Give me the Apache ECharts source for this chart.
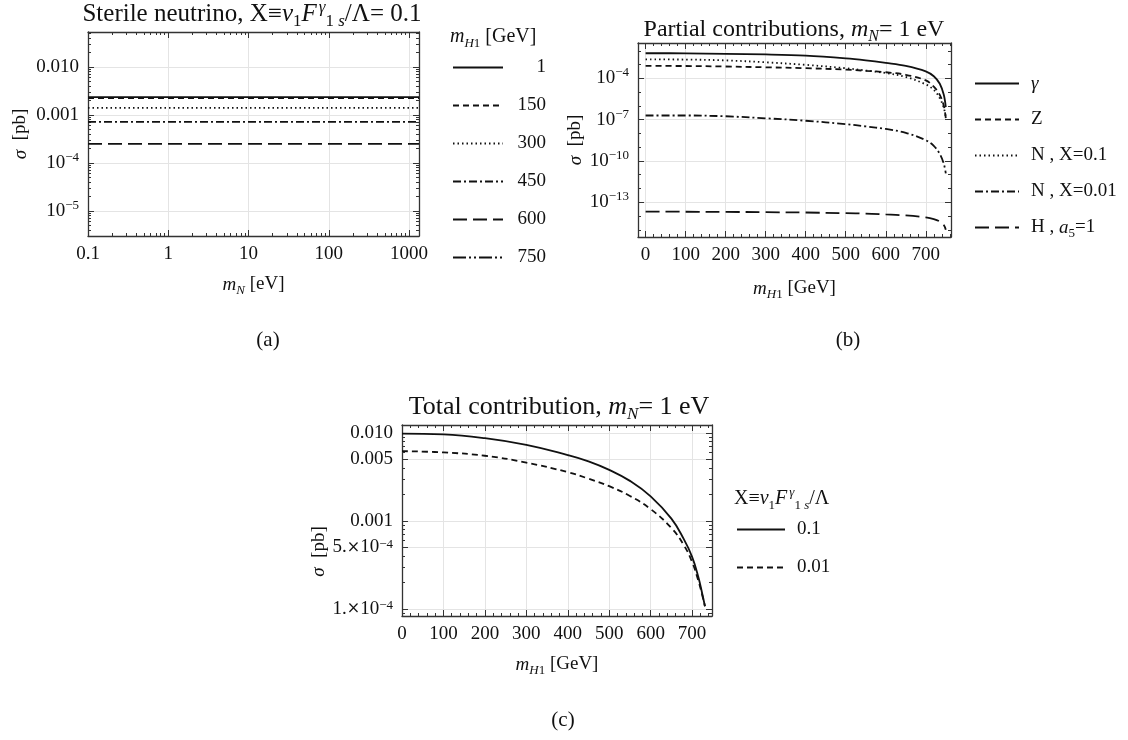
<!DOCTYPE html>
<html lang="en" style="height: 100%">

<head>
  <meta charset="utf-8">
</head>

<body style="height: 100%; margin: 0; background: #fff">
  <div id="container" style="width: 1128px; height: 740px"></div>

  <script type="text/javascript" src="https://cdn.jsdelivr.net/npm/echarts@6/dist/echarts.min.js"></script>

  <script type="text/javascript">
    // ---------- (a) sterile neutrino, sigma vs m_N, X = 0.1 ----------
    var mNValues = [0.1, 1, 10, 100, 1000, 1330];
    var mH1Names = ['1', '150', '300', '450', '600', '750'];
    var sigmaByMH1 = [0.00236, 0.00224, 0.00140, 0.000715, 0.00025, null];
    var mNTicks = [0.1, 1, 10, 100, 1000];
    var mNTickLabels = ['0.1', '1', '10', '100', '1000'];
    var sigmaTicksA = [1e-5, 1e-4, 1e-3, 1e-2];
    var sigmaTickLabelsA = ['{b|10}{e|−5}', '{b|10}{e|−4}', '0.001', '0.010'];

    // ---------- (b) partial contributions, m_N = 1 eV ----------
    var mHPartial = [0, 100, 200, 300, 400, 500, 550, 600, 650, 700, 720, 735, 745, 750];
    var sigmaGamma = [6.6e-3, 6.5e-3, 6.0e-3, 5.4e-3, 4.4e-3, 2.8e-3, 2.0e-3, 1.3e-3, 7.9e-4, 3.2e-4, 1.4e-4, 4.0e-5, 6.3e-6, 8e-7];
    var sigmaZ = [7.9e-4, 7.8e-4, 7.2e-4, 6.3e-4, 5.4e-4, 4.3e-4, 3.5e-4, 2.75e-4, 1.8e-4, 7.1e-5, 2.5e-5, 6.3e-6, 1.0e-6, 1.3e-7];
    var sigmaNX01 = [2.35e-3, 2.3e-3, 2.0e-3, 1.45e-3, 9.5e-4, 5.4e-4, 3.7e-4, 2.4e-4, 1.26e-4, 3.6e-5, 1.45e-5, 3.6e-6, 7.2e-7, 1.45e-7];
    var sigmaNX001 = [2.0e-7, 2.0e-7, 1.75e-7, 1.25e-7, 8.3e-8, 4.7e-8, 3.2e-8, 2.1e-8, 1.1e-8, 3.2e-9, 1.26e-9, 3.2e-10, 6.3e-11, 1.26e-11];
    var sigmaH = [2.1e-14, 2.05e-14, 2.0e-14, 1.9e-14, 1.8e-14, 1.6e-14, 1.5e-14, 1.3e-14, 1.1e-14, 7.9e-15, 6.0e-15, 4.0e-15, 2.2e-15, 1.0e-15];
    var partialNames = ['γ', 'Z', 'N , X=0.1', 'N , X=0.01', 'H , a5=1'];
    var sigmaTicksB = [1e-13, 1e-10, 1e-7, 1e-4];
    var sigmaTickLabelsB = ['{b|10}{e|−13}', '{b|10}{e|−10}', '{b|10}{e|−7}', '{b|10}{e|−4}'];

    // ---------- (c) total contribution, m_N = 1 eV ----------
    var mHTotal = [0, 100, 200, 300, 400, 450, 500, 550, 600, 650, 680, 700, 715, 725, 731];
    var sigmaTotX01 = [0.0098, 0.0096, 0.0087, 0.0073, 0.0056, 0.00475, 0.0038, 0.00285, 0.0019, 0.00106, 0.00062, 0.00039, 0.00023, 0.000145, 0.000107];
    var sigmaTotX001 = [0.0062, 0.0060, 0.0055, 0.0046, 0.00358, 0.00302, 0.00248, 0.00192, 0.00136, 0.00083, 0.00053, 0.00034, 0.00021, 0.00014, 0.000107];
    var totalNames = ['0.1', '0.01'];
    var sigmaTicksC = [1e-4, 5e-4, 1e-3, 5e-3, 1e-2];
    var sigmaTickLabelsC = ['1.{m|×}10{e|−4}', '5.{m|×}10{e|−4}', '0.001', '0.005', '0.010'];

    var SERIF = 'Liberation Serif';
    var INK = '#111';
    var FRAME = '#333';
    var GRID = '#e4e4e4';
    var DASH = {
      solid: 'solid',
      dashed: [6, 4],
      dotted: [1.5, 3],
      dashDot: [8, 3, 2, 3],
      longDash: [14, 6],
      dashDotDot: [13, 3, 2, 3, 2, 3]
    };

    function richText(size) {
      return {
        n: { fontFamily: SERIF, fontSize: size, lineHeight: size + 6, color: INK },
        i: { fontFamily: SERIF, fontStyle: 'italic', fontSize: size, lineHeight: size + 6, color: INK },
        s: { fontFamily: SERIF, fontStyle: 'italic', fontSize: Math.round(size * 0.66), verticalAlign: 'bottom', color: INK },
        su: { fontFamily: SERIF, fontSize: Math.round(size * 0.66), verticalAlign: 'bottom', color: INK },
        ei: { fontFamily: SERIF, fontStyle: 'italic', fontSize: Math.round(size * 0.66), verticalAlign: 'top', color: INK, padding: [0, 0, 0, 2] },
        e: { fontFamily: SERIF, fontSize: Math.round(size * 0.66), verticalAlign: 'top', color: INK },
        b: { fontFamily: SERIF, fontSize: size, lineHeight: size + 5, color: INK },
        m: { fontFamily: 'DejaVu Serif', fontSize: size - 3, color: INK },
        g: { width: 7 },
        r: { fontFamily: SERIF, fontSize: size, width: 38, align: 'right', color: INK }
      };
    }

    function logLabel(ticks, labels) {
      return function (v) {
        var best = 0;
        for (var k = 1; k < ticks.length; k++) {
          if (Math.abs(Math.log10(ticks[k]) - Math.log10(v)) < Math.abs(Math.log10(ticks[best]) - Math.log10(v))) best = k;
        }
        return labels[best];
      };
    }

    function hundreds(v) {
      return Math.abs(v % 100) < 1e-6 ? String(Math.round(v)) : '';
    }

    // minor tick positions of a log axis (2..9 per decade, or every decade)
    function logMinor(lo, hi, perDecade) {
      var out = [];
      for (var k = Math.floor(Math.log10(lo)); k <= Math.ceil(Math.log10(hi)); k++) {
        if (perDecade) {
          for (var d = 2; d <= 9; d++) {
            var v = d * Math.pow(10, k);
            if (v > lo && v < hi) out.push(v);
          }
        } else {
          var w = Math.pow(10, k);
          if (w > lo && w < hi) out.push(w);
        }
      }
      return out;
    }

    // one frame side: main axes carry labels, mirrored axes only ticks
    function frameSide(grid, pos, base, withLabels) {
      var ax = Object.assign({
        gridIndex: grid,
        position: pos,
        axisLine: { show: true, onZero: false, lineStyle: { color: FRAME, width: 1.3 } },
        axisTick: { show: true, inside: true, length: 6, lineStyle: { color: FRAME, width: 1 } },
        splitLine: { show: withLabels, lineStyle: { color: GRID, width: 1 } },
        axisLabel: { show: withLabels }
      }, base);
      if (base.ticks) {
        ax.axisTick.customValues = base.ticks;
      }
      if (base.minor) {
        ax.minorTick = { show: true, splitNumber: 5, length: 3, lineStyle: { color: FRAME, width: 1 } };
      }
      if (withLabels) {
        ax.axisLabel = {
          show: true,
          formatter: base.fmt,
          margin: 9,
          color: INK,
          fontFamily: SERIF,
          fontSize: 19,
          rich: richText(19),
          showMinLabel: true,
          showMaxLabel: true
        };
        if (base.ticks) ax.axisLabel.customValues = base.ticks;
        ax.nameTextStyle = Object.assign({ fontFamily: SERIF, fontSize: 19, color: INK, rich: richText(19) }, base.nameStyle || {});
      } else {
        delete ax.name;
      }
      delete ax.ticks;
      delete ax.fmt;
      delete ax.minor;
      delete ax.nameStyle;
      return ax;
    }

    // invisible axis that only draws short minor ticks on a log side
    function minorSide(grid, pos, type, min, max, values) {
      return {
        gridIndex: grid, position: pos, type: type, min: min, max: max,
        axisLine: { show: false, onZero: false },
        axisTick: { show: true, inside: true, length: 3, customValues: values, lineStyle: { color: FRAME, width: 1 } },
        axisLabel: { show: false },
        splitLine: { show: false }
      };
    }

    var xBase = [
      { type: 'log', min: 0.1, max: 1330, ticks: mNTicks, fmt: logLabel(mNTicks, mNTickLabels),
        name: '{i|m}{s|N}{n| [eV]}', nameLocation: 'middle', nameGap: 36 },
      { type: 'value', min: -19, max: 763, splitNumber: 8, minInterval: 100, maxInterval: 100, minor: true, fmt: hundreds,
        name: '{i|m}{s|H}{su|1}{n| [GeV]}', nameLocation: 'middle', nameGap: 39 },
      { type: 'value', min: 0, max: 748, splitNumber: 8, minInterval: 100, maxInterval: 100, minor: true, fmt: hundreds,
        name: '{i|m}{s|H}{su|1}{n| [GeV]}', nameLocation: 'middle', nameGap: 36 }
    ];
    var yBase = [
      { type: 'log', min: 3.0e-6, max: 0.0537, ticks: sigmaTicksA, fmt: logLabel(sigmaTicksA, sigmaTickLabelsA),
        name: '{i|σ}{n|  [pb]}', nameLocation: 'middle', nameGap: 55 },
      { type: 'log', min: 3.0e-16, max: 0.0366, ticks: sigmaTicksB, fmt: logLabel(sigmaTicksB, sigmaTickLabelsB),
        name: '{i|σ}{n|  [pb]}', nameLocation: 'middle', nameGap: 50 },
      { type: 'log', min: 8.3e-5, max: 0.0123, ticks: sigmaTicksC, fmt: logLabel(sigmaTicksC, sigmaTickLabelsC),
        name: '{i|σ}{n|  [pb]}', nameLocation: 'middle', nameGap: 44, nameStyle: { padding: [0, 62, 0, 0] } }
    ];

    var xAxes = [];
    var yAxes = [];
    for (var p = 0; p < 3; p++) {
      xAxes.push(frameSide(p, 'bottom', Object.assign({}, xBase[p]), true));
      xAxes.push(frameSide(p, 'top', Object.assign({}, xBase[p]), false));
      yAxes.push(frameSide(p, 'left', Object.assign({}, yBase[p]), true));
      yAxes.push(frameSide(p, 'right', Object.assign({}, yBase[p]), false));
    }
    // minor ticks on the log sides
    var minorX = logMinor(0.1, 1330, true);
    xAxes.push(minorSide(0, 'bottom', 'log', 0.1, 1330, minorX));
    xAxes.push(minorSide(0, 'top', 'log', 0.1, 1330, minorX));
    var minorYs = [
      logMinor(3.0e-6, 0.0537, true),
      logMinor(3.0e-16, 0.0366, false).filter(function (v) { return sigmaTicksB.indexOf(v) < 0; }),
      logMinor(8.3e-5, 0.0123, true).filter(function (v) { return Math.abs(v / 5e-4 - 1) > 1e-6 && Math.abs(v / 5e-3 - 1) > 1e-6; })
    ];
    for (var q = 0; q < 3; q++) {
      yAxes.push(minorSide(q, 'left', 'log', yBase[q].min, yBase[q].max, minorYs[q]));
      yAxes.push(minorSide(q, 'right', 'log', yBase[q].min, yBase[q].max, minorYs[q]));
    }

    function lineSeries(name, panel, data, dash, z, smooth) {
      return {
        type: 'line',
        name: name,
        xAxisIndex: panel * 2,
        yAxisIndex: panel * 2,
        data: data,
        symbol: 'none',
        smooth: smooth,
        z: z || 2,
        itemStyle: { color: INK },
        lineStyle: { color: INK, width: 1.8, type: dash }
      };
    }

    function zip(xs, ys) {
      return xs.map(function (x, k) { return [x, ys[k]]; });
    }

    var series = [];
    var dashA = [DASH.solid, DASH.dashed, DASH.dotted, DASH.dashDot, DASH.longDash, DASH.dashDotDot];
    mH1Names.forEach(function (name, k) {
      var s = sigmaByMH1[k];
      var data = s == null ? [] : mNValues.map(function (x) { return [x, s]; });
      series.push(lineSeries(name, 0, data, dashA[k], 10 - k, false));
    });
    var partialData = [sigmaGamma, sigmaZ, sigmaNX01, sigmaNX001, sigmaH];
    var dashB = [DASH.solid, DASH.dashed, DASH.dotted, DASH.dashDot, DASH.longDash];
    partialNames.forEach(function (name, k) {
      series.push(lineSeries(name, 1, zip(mHPartial, partialData[k]), dashB[k], 10 - k, 0.35));
    });
    var totalData = [sigmaTotX01, sigmaTotX001];
    var dashC = [DASH.solid, DASH.dashed];
    totalNames.forEach(function (name, k) {
      series.push(lineSeries(name, 2, zip(mHTotal, totalData[k]), dashC[k], 10 - k, 0.45));
    });

    var legendText = {
      'γ': '{g| }{i|γ}',
      'Z': '{g| }Z',
      'N , X=0.1': '{g| }N , X=0.1',
      'N , X=0.01': '{g| }N , X=0.01',
      'H , a5=1': '{g| }H , {i|a}{su|5}=1',
      '0.1': '{g| }0.1',
      '0.01': '{g| }0.01'
    };

    function legend(data, left, top, itemWidth, itemGap, fmt) {
      return {
        data: data,
        orient: 'vertical',
        left: left,
        top: top,
        padding: 0,
        itemWidth: itemWidth,
        itemHeight: 14,
        itemGap: itemGap,
        selectedMode: false,
        formatter: fmt,
        itemStyle: { opacity: 0 },
        textStyle: { fontFamily: SERIF, fontSize: 19, color: INK, rich: richText(19) }
      };
    }

    function label(text, x, y, size, align) {
      return {
        text: text,
        left: x,
        top: y,
        textAlign: align || 'center',
        padding: 0,
        textStyle: { fontFamily: SERIF, fontSize: size, fontWeight: 'normal', color: INK, rich: richText(size) }
      };
    }

    var myChart = echarts.init(document.getElementById('container'), null, { renderer: 'canvas' });
    var option = {
      animation: false,
      backgroundColor: '#fff',
      title: [
        label('{n|Sterile neutrino, X≡}{i|v}{su|1}{i|F}{ei|γ}{su|1 }{s|s}{n|/Λ= 0.1}', 252, -1, 25),
        label('{n|Partial contributions, }{i|m}{s|N}{n|= 1 eV}', 794, 15, 24),
        label('{n|Total contribution, }{i|m}{s|N}{n|= 1 eV}', 559, 391, 26),
        label('{i|m}{s|H}{su|1}{n| [GeV]}', 450, 24, 20, 'left'),
        label('{n|X≡}{i|v}{su|1}{i|F}{ei|γ}{su|1 }{s|s}{n|/Λ}', 734, 486, 20, 'left'),
        label('{n|(a)}', 268, 327, 21),
        label('{n|(b)}', 848, 327, 21),
        label('{n|(c)}', 563, 707, 21)
      ],
      legend: [
        legend(mH1Names, 452, 58, 50, 19, function (name) { return '{r|' + name + '}'; }),
        legend(partialNames, 974, 74, 44, 17, function (name) { return legendText[name]; }),
        legend(totalNames, 736, 520, 48, 19, function (name) { return legendText[name]; })
      ],
      grid: [
        { left: 88, top: 32, width: 331, height: 204 },
        { left: 638, top: 43, width: 313, height: 194 },
        { left: 402, top: 425, width: 310, height: 191 }
      ],
      xAxis: xAxes,
      yAxis: yAxes,
      series: series
    };

    myChart.setOption(option);
    window.addEventListener('resize', myChart.resize);
  </script>
</body>

</html>
